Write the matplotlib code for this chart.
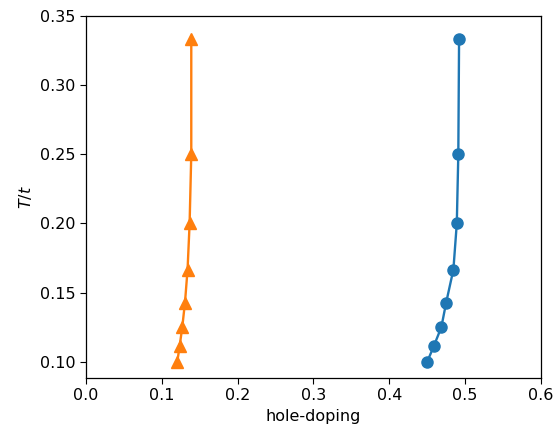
import matplotlib
matplotlib.use("Agg")
import matplotlib.pyplot as plt

T = [1/10, 1/9, 1/8, 1/7, 1/6, 1/5, 1/4, 1/3]
doping_circle = [0.450, 0.4585, 0.4686, 0.475, 0.4845, 0.489, 0.491, 0.492]
doping_triangle = [0.1204, 0.1235, 0.127, 0.1306, 0.134, 0.1367, 0.1389, 0.1389]

plt.rcParams["font.size"] = 11.5
plt.rcParams["xtick.major.size"] = 4
plt.rcParams["ytick.major.size"] = 4
plt.rcParams["axes.linewidth"] = 0.9

fig = plt.figure(figsize=(5.58, 4.28), dpi=100)
ax = fig.add_axes([0.154, 0.1168, 0.8155, 0.8458])

ax.plot(doping_circle, T, marker="o", color="C0", markersize=8, linewidth=1.7)
ax.plot(doping_triangle, T, marker="^", color="C1", markersize=8, linewidth=1.7)

ax.set_xlim(0, 0.6)
ax.set_ylim(0.0883, 0.35)
ax.set_xlabel("hole-doping")
ax.set_ylabel("$T/t$")

fig.savefig("out.png", dpi=100)
